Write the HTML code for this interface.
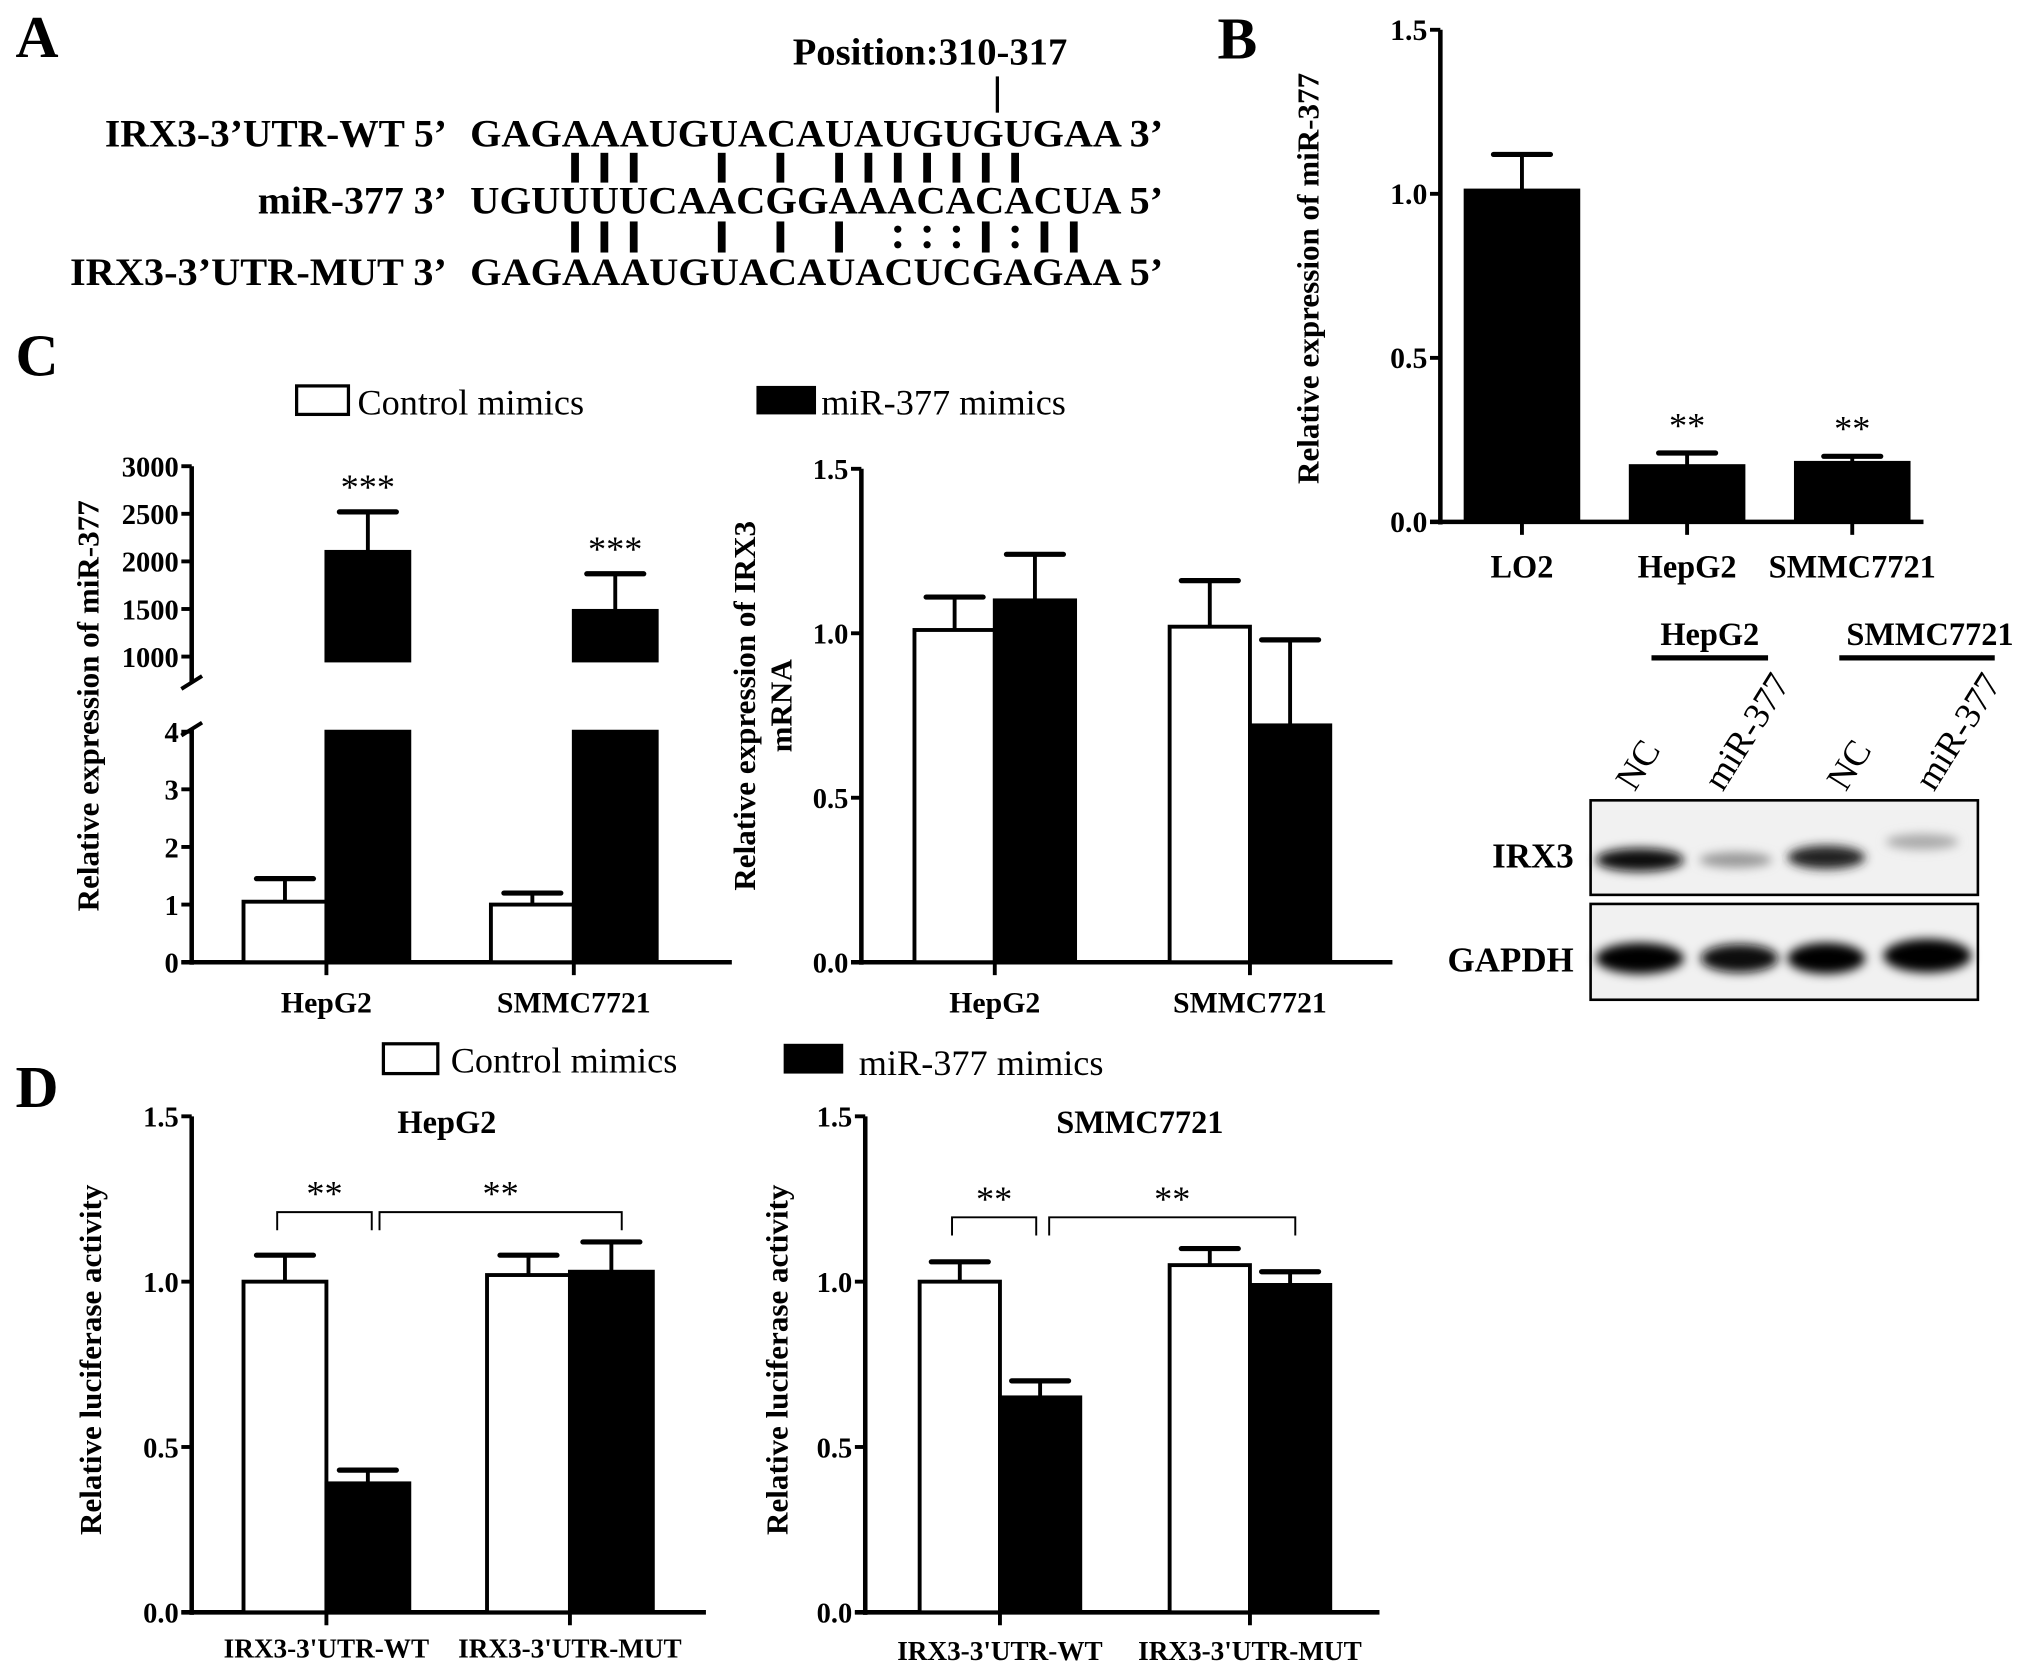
<!DOCTYPE html>
<html><head><meta charset="utf-8">
<style>
html,body{margin:0;padding:0;background:#fff;}
svg{display:block;}
text{font-family:"Liberation Serif","DejaVu Serif",serif;fill:#000;}
.b{font-weight:bold;}
</style></head>
<body>
<svg id="fig" xmlns="http://www.w3.org/2000/svg" width="2031" height="1668" viewBox="0 0 1568 1288" preserveAspectRatio="none">
<defs>
<filter id="blur"><feGaussianBlur stdDeviation="4"/></filter>
</defs>
<!-- Panel A -->
<g>
<text x="12" y="44" class="b" font-size="46">A</text>
<text x="718" y="50" class="b" font-size="29" text-anchor="middle" textLength="212" lengthAdjust="spacingAndGlyphs">Position:310-317</text>
<line x1="770" y1="59" x2="770" y2="87" stroke="#000" stroke-width="2.5"/>
<text x="81" y="113" class="b" font-size="30" textLength="264" lengthAdjust="spacingAndGlyphs">IRX3-3’UTR-WT 5’</text>
<text x="363" y="113" class="b" font-size="30" textLength="535" lengthAdjust="spacingAndGlyphs">GAGAAAUGUACAUAUGUGUGAA 3’</text>
<text x="199" y="165" class="b" font-size="30" textLength="146" lengthAdjust="spacingAndGlyphs">miR-377 3’</text>
<text x="363" y="165" class="b" font-size="30" textLength="535" lengthAdjust="spacingAndGlyphs">UGUUUUCAACGGAAACACACUA 5’</text>
<text x="54" y="220" class="b" font-size="30" textLength="291" lengthAdjust="spacingAndGlyphs">IRX3-3’UTR-MUT 3’</text>
<text x="363" y="220" class="b" font-size="30" textLength="535" lengthAdjust="spacingAndGlyphs">GAGAAAUGUACAUACUCGAGAA 5’</text>
<g id="pairs"></g>
</g>
<text x="12" y="290" class="b" font-size="46">C</text>
<text x="12" y="855" class="b" font-size="46">D</text>
<text x="940" y="45" class="b" font-size="46">B</text>
<!-- legends -->
<g>
<rect x="229" y="298" width="40" height="22" fill="#fff" stroke="#000" stroke-width="2.5"/>
<text x="276" y="320" font-size="28">Control mimics</text>
<rect x="584" y="298" width="46" height="22" fill="#000"/>
<text x="634" y="320" font-size="28">miR-377 mimics</text>
</g>
<g>
<rect x="296" y="806" width="42" height="23" fill="#fff" stroke="#000" stroke-width="2.5"/>
<text x="348" y="828" font-size="28">Control mimics</text>
<rect x="605" y="806" width="46" height="23" fill="#000"/>
<text x="663" y="830" font-size="28">miR-377 mimics</text>
</g>
<!-- Western blot -->
<g>
<text x="1320" y="498" class="b" font-size="25" text-anchor="middle">HepG2</text>
<line x1="1275" y1="508" x2="1365" y2="508" stroke="#000" stroke-width="4"/>
<text x="1490" y="498" class="b" font-size="25" text-anchor="middle">SMMC7721</text>
<line x1="1420" y1="508" x2="1540" y2="508" stroke="#000" stroke-width="4"/>
<rect x="1228" y="618" width="299" height="73" fill="#f1f1f1" stroke="#000" stroke-width="2"/>
<rect x="1228" y="698" width="299" height="74" fill="#f1f1f1" stroke="#000" stroke-width="2"/>
<text transform="translate(1262,612) rotate(-58)" font-size="28">NC</text>
<text transform="translate(1330,612) rotate(-58)" font-size="28">miR-377</text>
<text transform="translate(1425,612) rotate(-58)" font-size="28">NC</text>
<text transform="translate(1493,612) rotate(-58)" font-size="28">miR-377</text>
<g filter="url(#blur)">
<ellipse cx="1266" cy="664" rx="34" ry="9" fill="#111"/>
<ellipse cx="1340" cy="664" rx="28" ry="6" fill="#999"/>
<ellipse cx="1410" cy="662" rx="30" ry="9" fill="#222"/>
<ellipse cx="1484" cy="650" rx="28" ry="6" fill="#aaa"/>
<ellipse cx="1266" cy="740" rx="34" ry="12" fill="#000"/>
<ellipse cx="1343" cy="740" rx="30" ry="11" fill="#111"/>
<ellipse cx="1410" cy="740" rx="30" ry="12" fill="#000"/>
<ellipse cx="1488" cy="738" rx="34" ry="13" fill="#000"/>
</g>
<text x="1215" y="670" class="b" font-size="27" text-anchor="end">IRX3</text>
<text x="1215" y="750" class="b" font-size="27" text-anchor="end">GAPDH</text>
</g>
<g id="charts"></g>
</svg>
<script>
// ---- Panel B data ----
const bCats = ["LO2", "HepG2", "SMMC7721"];
const bVals = [1.01, 0.17, 0.18];
const bErr = [0.11, 0.04, 0.02];
const bTicks = ["0.0", "0.5", "1.0", "1.5"];
const bSig = ["", "**", "**"];
// ---- Panel C left (miR-377 with broken axis) ----
const cCats = ["HepG2", "SMMC7721"];
const cCtrl = [1.05, 1.0];
const cCtrlErr = [0.4, 0.2];
const cMir = [2100, 1480];
const cMirErr = [420, 390];
const cLowTicks = ["0", "1", "2", "3", "4"];
const cHighTicks = ["1000", "1500", "2000", "2500", "3000"];
// ---- Panel C right (IRX3 mRNA) ----
const mCats = ["HepG2", "SMMC7721"];
const mCtrl = [1.01, 1.02];
const mCtrlErr = [0.10, 0.14];
const mMir = [1.10, 0.72];
const mMirErr = [0.14, 0.26];
const mTicks = ["0.0", "0.5", "1.0", "1.5"];
// ---- Panel D HepG2 ----
const dCats = ["IRX3-3'UTR-WT", "IRX3-3'UTR-MUT"];
const dhCtrl = [1.0, 1.02];
const dhCtrlErr = [0.08, 0.06];
const dhMir = [0.39, 1.03];
const dhMirErr = [0.04, 0.09];
// ---- Panel D SMMC7721 ----
const dsCtrl = [1.0, 1.05];
const dsCtrlErr = [0.06, 0.05];
const dsMir = [0.65, 0.99];
const dsMirErr = [0.05, 0.04];
const dTicks = ["0.0", "0.5", "1.0", "1.5"];

const NS = "http://www.w3.org/2000/svg";
const root = document.getElementById("charts");
function mk(tag, attrs, parent, txt) {
  const e = document.createElementNS(NS, tag);
  for (const k in attrs) e.setAttribute(k, attrs[k]);
  if (txt !== undefined) e.textContent = txt;
  (parent || root).appendChild(e);
  return e;
}
function linY(v0, v1, p0, p1) { return v => p0 + (v - v0) / (v1 - v0) * (p1 - p0); }

function errBar(g, cx, yTop, yErr, w) {
  const l = mk("line", {x1: cx, y1: yTop, x2: cx, y2: yErr, stroke: "#000", "stroke-width": 3}, g);
  
  
  const c = mk("line", {x1: cx - w, y1: yErr, x2: cx + w, y2: yErr, stroke: "#000", "stroke-width": 4, "stroke-linecap": "round"}, g);
  
  
}
function bar(g, x, w, y0, y1, black, name) {
  const r = mk("rect", {x: x, y: Math.min(y0, y1), width: w, height: Math.abs(y0 - y1),
    fill: black ? "#000" : "#fff", stroke: "#000", "stroke-width": 3}, g);
  
  
  return r;
}
function yAxis(g, ax, yTopPx, yBotPx, ticks, vals, y, fs) {
  mk("line", {x1: ax, y1: yTopPx, x2: ax, y2: yBotPx, stroke: "#000", "stroke-width": 3.5}, g);
  ticks.forEach((t, i) => {
    const yy = y(vals[i]);
    mk("line", {x1: ax - 8, y1: yy, x2: ax, y2: yy, stroke: "#000", "stroke-width": 3}, g);
    const tx = mk("text", {x: ax - 10, y: yy + 8, "font-size": fs || 22, "font-weight": "bold", "text-anchor": "end"}, g, t);
    
    
  });
}
function yTitle(g, x, cy, lines, fs) {
  const t = mk("text", {transform: `translate(${x},${cy}) rotate(-90)`, "font-size": fs || 24, "font-weight": "bold", "text-anchor": "middle"}, g);
  lines.forEach((ln, i) => mk("tspan", {x: 0, dy: i ? 28 : 0}, t, ln));
  
  
}

// ---------- Panel B ----------
(function () {
  const g = mk("g", {});
  
  
  const ax = 1112, y = linY(0, 1.5, 403, 23);
  yAxis(g, ax, 23, 405, bTicks, [0, 0.5, 1, 1.5], y, 23);
  mk("line", {x1: ax - 8, y1: 403, x2: 1485, y2: 403, stroke: "#000", "stroke-width": 3.5}, g);
  const centers = bCats.map((c, i) => 1175 + i * 127.5);
  const bw = 87;
  bCats.forEach((c, i) => {
    const cx = centers[i];
    errBar(g, cx, y(bVals[i]), y(bVals[i] + bErr[i]), 22);
    bar(g, cx - bw / 2, bw, y(0), y(bVals[i]), true, "bar-" + c.toLowerCase());
    mk("line", {x1: cx, y1: 403, x2: cx, y2: 413, stroke: "#000", "stroke-width": 3}, g);
    const t = mk("text", {x: cx, y: 446, "font-size": 25, "font-weight": "bold", "text-anchor": "middle"}, g, c);
    
    
    if (bSig[i]) {
      const s = mk("text", {x: cx, y: y(bVals[i] + bErr[i]) - 12, "font-size": 28, "text-anchor": "middle"}, g, bSig[i]);
      
      
    }
  });
  yTitle(g, 1018, 215, ["Relative expression of miR-377"], 24);
})();

// ---------- Panel C left ----------
(function () {
  const g = mk("g", {});
  
  
  const ax = 148;
  const yLow = linY(0, 4, 743, 565);
  const yHigh = linY(1000, 3000, 507, 360);
  const yv = v => v <= 4 ? yLow(v) : yHigh(Math.max(v, 1000));
  mk("line", {x1: ax, y1: 360, x2: ax, y2: 527, stroke: "#000", "stroke-width": 3.5}, g);
  mk("line", {x1: ax, y1: 563, x2: ax, y2: 745, stroke: "#000", "stroke-width": 3.5}, g);
  mk("line", {x1: ax - 8, y1: 532, x2: ax + 8, y2: 522, stroke: "#000", "stroke-width": 3}, g);
  mk("line", {x1: ax - 8, y1: 568, x2: ax + 8, y2: 558, stroke: "#000", "stroke-width": 3}, g);
  cLowTicks.forEach((t, i) => {
    const yy = yLow(+t);
    mk("line", {x1: ax - 8, y1: yy, x2: ax, y2: yy, stroke: "#000", "stroke-width": 3}, g);
    const tx = mk("text", {x: ax - 10, y: yy + 8, "font-size": 22, "font-weight": "bold", "text-anchor": "end"}, g, t);
    
    
  });
  cHighTicks.forEach((t, i) => {
    const yy = yHigh(+t);
    mk("line", {x1: ax - 8, y1: yy, x2: ax, y2: yy, stroke: "#000", "stroke-width": 3}, g);
    const tx = mk("text", {x: ax - 10, y: yy + 8, "font-size": 22, "font-weight": "bold", "text-anchor": "end"}, g, t);
    
    
  });
  mk("line", {x1: ax - 8, y1: 743, x2: 565, y2: 743, stroke: "#000", "stroke-width": 3.5}, g);
  const centers = [252, 443], bw = 64;
  cCats.forEach((c, i) => {
    const cx = centers[i];
    errBar(g, cx - bw / 2, yv(cCtrl[i]), yv(cCtrl[i] + cCtrlErr[i]), 22);
    bar(g, cx - bw, bw, yLow(0), yv(cCtrl[i]), false, "bar-control-" + c.toLowerCase());
    errBar(g, cx + bw / 2, yv(cMir[i]), yv(cMir[i] + cMirErr[i]), 22);
    bar(g, cx, bw, yLow(0), yLow(4), true, "bar-mir377-low-" + c.toLowerCase());
    bar(g, cx, bw, 510, yv(cMir[i]), true, "bar-mir377-high-" + c.toLowerCase());
    const s = mk("text", {x: cx + bw / 2, y: yv(cMir[i] + cMirErr[i]) - 10, "font-size": 28, "text-anchor": "middle"}, g, "***");
    
    
    mk("line", {x1: cx, y1: 743, x2: cx, y2: 753, stroke: "#000", "stroke-width": 3}, g);
    const t = mk("text", {x: cx, y: 782, "font-size": 23, "font-weight": "bold", "text-anchor": "middle"}, g, c);
    
    
  });
  yTitle(g, 76, 545, ["Relative expression of miR-377"], 24);
})();

function grouped(name, ax, axEnd, yTopPx, y0px, cats, centers, bw, ctrl, ctrlE, mir, mirE, ticks, labelY, labelFs) {
  const g = mk("g", {});
  
  
  const y = linY(0, 1.5, y0px, yTopPx);
  yAxis(g, ax, yTopPx, y0px + 2, ticks, [0, 0.5, 1, 1.5], y, 22);
  mk("line", {x1: ax - 8, y1: y0px, x2: axEnd, y2: y0px, stroke: "#000", "stroke-width": 3.5}, g);
  cats.forEach((c, i) => {
    const cx = centers[i];
    errBar(g, cx - bw / 2, y(ctrl[i]), y(ctrl[i] + ctrlE[i]), 22);
    bar(g, cx - bw, bw, y(0), y(ctrl[i]), false, "bar-control-" + i);
    errBar(g, cx + bw / 2, y(mir[i]), y(mir[i] + mirE[i]), 22);
    bar(g, cx, bw, y(0), y(mir[i]), true, "bar-mir377-" + i);
    mk("line", {x1: cx, y1: y0px, x2: cx, y2: y0px + 10, stroke: "#000", "stroke-width": 3}, g);
    const t = mk("text", {x: cx, y: labelY, "font-size": labelFs, "font-weight": "bold", "text-anchor": "middle"}, g, c);
    
    
  });
  return {g: g, y: y};
}

// ---------- Panel C right ----------
(function () {
  const r = grouped("chart-c-irx3-mrna", 665, 1075, 362, 743, mCats, [768, 965], 62, mCtrl, mCtrlErr, mMir, mMirErr, mTicks, 782, 23);
  yTitle(r.g, 583, 545, ["Relative expression of IRX3", "mRNA"], 24);
})();

function brackets(g, y, xs, sigs) {
  xs.forEach((p, i) => {
    mk("polyline", {points: `${p[0]},${y + 14} ${p[0]},${y} ${p[1]},${y} ${p[1]},${y + 14}`, fill: "none", stroke: "#000", "stroke-width": 1.5}, g);
    const s = mk("text", {x: (p[0] + p[1]) / 2, y: y - 5, "font-size": 28, "text-anchor": "middle"}, g, sigs[i]);
    
    
  });
}

// ---------- Panel D HepG2 ----------
(function () {
  const r = grouped("chart-d-hepg2", 148, 545, 862, 1245, dCats, [252, 440], 64, dhCtrl, dhCtrlErr, dhMir, dhMirErr, dTicks, 1280, 21);
  const t = mk("text", {x: 345, y: 875, "font-size": 25, "font-weight": "bold", "text-anchor": "middle"}, r.g, "HepG2");
  
  
  brackets(r.g, 936, [[214, 287], [293, 480]], ["**", "**"]);
  yTitle(r.g, 78, 1050, ["Relative luciferase activity"], 24);
})();

// ---------- Panel D SMMC7721 ----------
(function () {
  const r = grouped("chart-d-smmc7721", 668, 1065, 862, 1245, dCats, [772, 965], 62, dsCtrl, dsCtrlErr, dsMir, dsMirErr, dTicks, 1282, 21);
  const t = mk("text", {x: 880, y: 875, "font-size": 25, "font-weight": "bold", "text-anchor": "middle"}, r.g, "SMMC7721");
  
  
  brackets(r.g, 940, [[735, 800], [810, 1000]], ["**", "**"]);
  yTitle(r.g, 608, 1050, ["Relative luciferase activity"], 24);
})();

// ---------- base pair marks (panel A) ----------
(function () {
  const pg = document.getElementById("pairs");
  const step = 22.65;
  const x0 = 376;
  const top = "0001110010101111111000";
  const bot = "0001110010101022212110";
  for (let i = 0; i < 22; i++) {
    const x = x0 + i * step;
    if (top[i] === "1") mk("rect", {x: x - 3, y: 118, width: 6, height: 23, fill: "#000"}, pg);
    if (bot[i] === "1") mk("rect", {x: x - 3, y: 171, width: 6, height: 24, fill: "#000"}, pg);
    if (bot[i] === "2") {
      mk("circle", {cx: x, cy: 177, r: 2.8, fill: "#000"}, pg);
      mk("circle", {cx: x, cy: 189, r: 2.8, fill: "#000"}, pg);
    }
  }
})();
</script>
</body></html>
